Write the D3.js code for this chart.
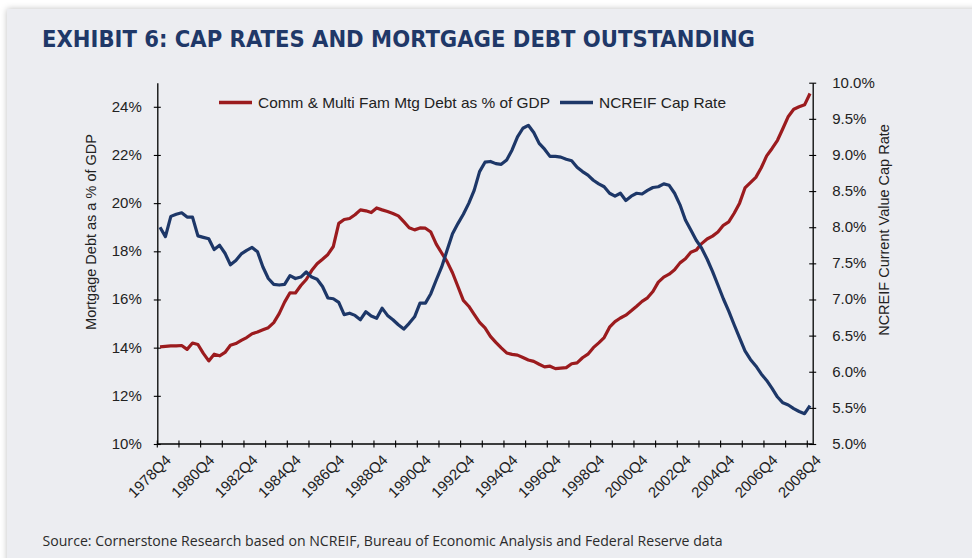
<!DOCTYPE html>
<html><head><meta charset="utf-8">
<script src="https://cdn.jsdelivr.net/npm/d3@7/dist/d3.min.js"></script>
<style>
html,body{margin:0;padding:0;background:#ffffff;}
svg{display:block;}
</style></head>
<body>
<svg id="chart" width="972" height="558"></svg>
<script>
// ---------- DATA ----------
const firstYear = 1978, firstQuarter = 4, quarterCount = 121; // 1978Q4 .. 2008Q4
const quarters = [];
for (let k = 0; k < quarterCount; k++) {
  const q = (firstQuarter - 1 + k) % 4 + 1;
  const y = firstYear + Math.floor((firstQuarter - 1 + k) / 4);
  quarters.push(y + "Q" + q);
}
const tickLabels = ["1978Q4","1980Q4","1982Q4","1984Q4","1986Q4","1988Q4","1990Q4","1992Q4",
  "1994Q4","1996Q4","1998Q4","2000Q4","2002Q4","2004Q4","2006Q4","2008Q4"];

// Comm & Multi Fam Mtg Debt as % of GDP (left axis)
const mortgageDebtPct = [
  14.03,14.05,14.07,14.07,14.09,13.93,14.19,14.13,13.76,13.45,
  13.73,13.66,13.80,14.10,14.17,14.30,14.42,14.58,14.65,14.74,
  14.83,15.04,15.41,15.89,16.28,16.27,16.58,16.83,17.20,17.48,
  17.67,17.87,18.20,19.16,19.32,19.36,19.52,19.72,19.68,19.61,
  19.80,19.72,19.65,19.57,19.47,19.23,18.98,18.89,18.97,18.96,
  18.80,18.30,17.93,17.57,17.11,16.54,15.96,15.72,15.38,15.05,
  14.82,14.47,14.22,13.99,13.78,13.72,13.69,13.59,13.49,13.43,
  13.31,13.20,13.23,13.13,13.15,13.17,13.33,13.37,13.58,13.73,
  14.00,14.20,14.42,14.85,15.08,15.23,15.35,15.53,15.72,15.92,
  16.07,16.33,16.72,16.93,17.05,17.23,17.52,17.69,17.96,18.05,
  18.32,18.51,18.63,18.80,19.08,19.22,19.58,20.00,20.63,20.85,
  21.07,21.47,21.96,22.27,22.61,23.10,23.60,23.90,24.00,24.08,
  24.55
];
// NCREIF Cap Rate (right axis)
const capRatePct = [
  8.00,7.87,8.15,8.18,8.20,8.14,8.14,7.88,7.86,7.84,
  7.69,7.75,7.64,7.48,7.54,7.63,7.68,7.72,7.66,7.45,
  7.29,7.21,7.20,7.21,7.33,7.29,7.31,7.38,7.31,7.28,
  7.18,7.02,7.01,6.96,6.79,6.81,6.78,6.72,6.83,6.77,
  6.74,6.88,6.78,6.72,6.65,6.59,6.67,6.76,6.95,6.95,
  7.08,7.27,7.45,7.68,7.91,8.05,8.18,8.33,8.51,8.77,
  8.90,8.91,8.88,8.87,8.93,9.07,9.25,9.37,9.41,9.31,
  9.16,9.08,8.98,8.98,8.97,8.94,8.92,8.83,8.77,8.72,
  8.65,8.60,8.56,8.47,8.43,8.47,8.37,8.43,8.47,8.46,
  8.51,8.55,8.56,8.60,8.58,8.47,8.31,8.10,7.96,7.82,
  7.71,7.56,7.39,7.20,7.01,6.84,6.65,6.47,6.29,6.17,
  6.08,5.97,5.88,5.77,5.65,5.57,5.54,5.49,5.45,5.42,
  5.53
];
const leftTicks = [10,12,14,16,18,20,22,24];
const rightTicks = [5.0,5.5,6.0,6.5,7.0,7.5,8.0,8.5,9.0,9.5,10.0];
const seriesNames = ["Comm & Multi Fam Mtg Debt as % of GDP", "NCREIF Cap Rate"];

// ---------- STYLE ----------
const RED = "#9b1b1e", BLUE = "#1d3768", INK = "#222222";
const FONT = "'Liberation Sans', Arial, Helvetica, sans-serif";

const svg = d3.select("#chart");
const defs = svg.append("defs");
const f = defs.append("filter").attr("id","sh").attr("x","-5%").attr("y","-5%").attr("width","110%").attr("height","110%");
f.append("feDropShadow").attr("dx",0).attr("dy",0).attr("stdDeviation",3).attr("flood-color","#000").attr("flood-opacity",0.25);

svg.append("rect").attr("x",7).attr("y",9).attr("width",980).attr("height",570)
  .attr("fill","#ecedf1").attr("filter","url(#sh)");

// Title
svg.append("text").attr("x",42).attr("y",47)
  .attr("font-family","'Liberation Sans Narrow','DejaVu Sans Condensed','Liberation Sans',sans-serif")
  .attr("font-weight","bold").attr("font-size",23.5).attr("fill","#1f3868")
  .attr("textLength",713).attr("lengthAdjust","spacingAndGlyphs")
  .text("EXHIBIT 6: CAP RATES AND MORTGAGE DEBT OUTSTANDING");

// Source
svg.append("text").attr("x",42.5).attr("y",545.5)
  .attr("font-family","'Open Sans','Noto Sans',sans-serif").attr("font-size",14.5).attr("fill","#2b2b2b")
  .attr("textLength",680).attr("lengthAdjust","spacingAndGlyphs")
  .text("Source: Cornerstone Research based on NCREIF,  Bureau of Economic Analysis and Federal Reserve data");

// ---------- SCALES ----------
const plotLeft = 157.3, plotRight = 812.7, plotTop = 82.7, plotBottom = 444;
const xb = d3.scaleBand().domain(quarters).range([plotLeft, plotRight]).padding(0);
const xc = q => xb(q) + xb.bandwidth() / 2;
const yL = d3.scaleLinear().domain([10, 25]).range([plotBottom, plotTop]);
const yR = d3.scaleLinear().domain([5, 10]).range([plotBottom, plotTop]);

const axisStyle = g => {
  g.select(".domain").attr("stroke","#000").attr("stroke-width",1.3);
  g.selectAll(".tick text").attr("font-family",FONT).attr("font-size",15).attr("fill",INK);
};

// Left axis
const gL = svg.append("g").attr("transform",`translate(${plotLeft},0)`)
  .call(d3.axisLeft(yL).tickValues(leftTicks).tickSize(0).tickSizeOuter(0).tickPadding(15.5).tickFormat(d => d + "%"))
  .call(axisStyle);
gL.selectAll(".tick line").attr("x1",-3.5).attr("x2",3.5).attr("stroke","#000").attr("stroke-width",1.1);
gL.selectAll(".tick text").attr("dy","0.3em");

// Right axis
const gR = svg.append("g").attr("transform",`translate(${plotRight},0)`)
  .call(d3.axisRight(yR).tickValues(rightTicks).tickSize(0).tickSizeOuter(0).tickPadding(19.5).tickFormat(d => d.toFixed(1) + "%"))
  .call(axisStyle);
gR.selectAll(".tick line").attr("x1",-3.5).attr("x2",3.5).attr("stroke","#000").attr("stroke-width",1.1);
gR.selectAll(".tick text").attr("dy","0.3em");

// Bottom axis (ticks at category boundaries every 4 quarters)
const gB = svg.append("g");
gB.append("line").attr("x1",plotLeft).attr("x2",plotRight).attr("y1",plotBottom).attr("y2",plotBottom)
  .attr("stroke","#000").attr("stroke-width",1.3);
const tickQs = quarters.filter((q, i) => i % 4 === 0);
gB.selectAll("line.tk").data(tickQs).join("line").attr("class","tk")
  .attr("x1", d => xb(d)).attr("x2", d => xb(d))
  .attr("y1", plotBottom - 3.5).attr("y2", plotBottom + 3.5).attr("stroke","#000").attr("stroke-width",1.1);
gB.selectAll("text").data(tickLabels).join("text")
  .attr("transform", d => `translate(${xc(d) + 12},${plotBottom + 17}) rotate(-45)`)
  .attr("text-anchor","end").attr("font-family",FONT).attr("font-size",15).attr("fill",INK)
  .text(d => d);

// Axis titles
svg.append("text").attr("transform",`translate(95.5,232) rotate(-90)`).attr("text-anchor","middle")
  .attr("font-family",FONT).attr("font-size",14.5).attr("fill",INK).text("Mortgage Debt as a % of GDP");
svg.append("text").attr("transform",`translate(888.5,230) rotate(-90)`).attr("text-anchor","middle")
  .attr("font-family",FONT).attr("font-size",14.5).attr("fill",INK).text("NCREIF Current Value Cap Rate");

// ---------- LINES ----------
const lineL = d3.line().x((d, i) => xc(quarters[i])).y(d => yL(d));
const lineR = d3.line().x((d, i) => xc(quarters[i])).y(d => yR(d));
svg.append("path").datum(mortgageDebtPct).attr("d", lineL).attr("fill","none")
  .attr("stroke",RED).attr("stroke-width",3.2).attr("stroke-linejoin","round");
svg.append("path").datum(capRatePct).attr("d", lineR).attr("fill","none")
  .attr("stroke",BLUE).attr("stroke-width",3.2).attr("stroke-linejoin","round");

// ---------- LEGEND ----------
const legend = [
  {name: seriesNames[0], color: RED, x0: 219, len: 292},
  {name: seriesNames[1], color: BLUE, x0: 560, len: 127}
];
const lg = svg.append("g");
legend.forEach(l => {
  lg.append("line").attr("x1",l.x0).attr("x2",l.x0 + 33).attr("y1",102.5).attr("y2",102.5)
    .attr("stroke",l.color).attr("stroke-width",3.5);
  lg.append("text").attr("x",l.x0 + 39).attr("y",107.8).attr("font-family",FONT).attr("font-size",15)
    .attr("fill",INK).attr("textLength",l.len).attr("lengthAdjust","spacingAndGlyphs").text(l.name);
});
</script>
</body></html>
